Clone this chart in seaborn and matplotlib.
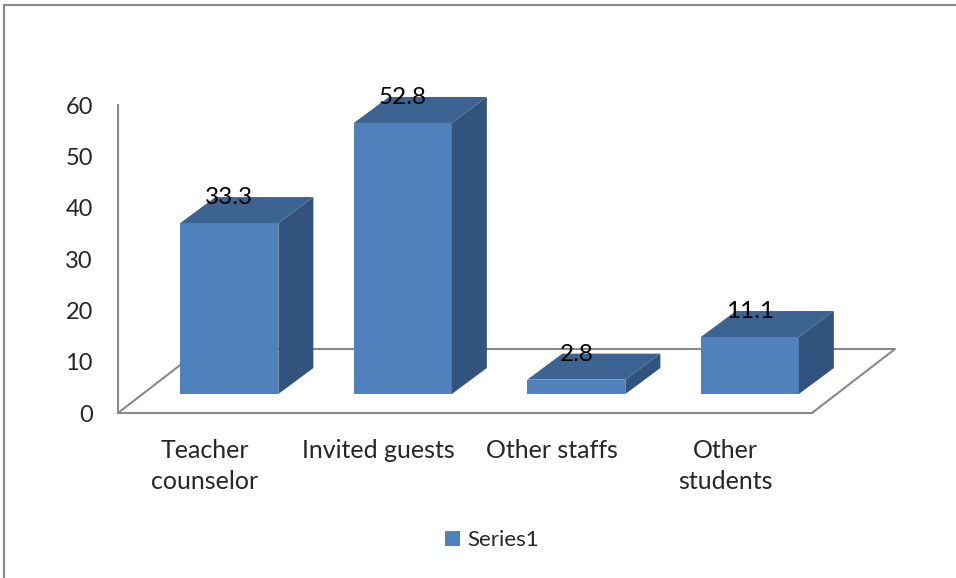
import matplotlib
matplotlib.use("Agg")
import matplotlib.pyplot as plt
import pandas as pd
import seaborn as sns
from matplotlib.lines import Line2D
from matplotlib.patches import Polygon

categories = ["Teacher\ncounselor", "Invited guests", "Other staffs", "Other\nstudents"]
values = [33.3, 52.8, 2.8, 11.1]
series_name = "Series1"
y_ticks = [0, 10, 20, 30, 40, 50, 60]

df = pd.DataFrame({"category": categories, "value": values})

sns.set_style("white")
plt.rcParams["font.family"] = ["Lato", "DejaVu Sans"]

FRONT = "#4F81BD"
TOP = "#3D6391"
SIDE = "#32537D"
GRAY = "#898989"

W, H = 956, 578
fig = plt.figure(figsize=(W / 100, H / 100), dpi=100)
ax = fig.add_axes([118 / W, 165 / H, 694 / W, 308 / H])

sns.barplot(data=df, x="category", y="value", color=FRONT, width=0.565,
            saturation=1, errorbar=None, label=series_name, ax=ax)
ax.set_xlim(-0.5, 3.5)
ax.set_ylim(0, 60)

# pixel sizes -> data units, for the fake 3d depth
px_x = 694 / 4
px_y = 308 / 60
fx, fy = 24.6 / px_x, 19 / px_y      # bars sit a bit back from the front edge
bx, by = 35 / px_x, 26 / px_y        # bar depth
DX, DY = 83 / px_x, 64 / px_y        # floor depth

# floor outline behind the bars
ax.plot([-0.5, -0.5 + DX, 3.5 + DX, 3.5], [0, DY, DY, 0],
        color=GRAY, lw=1.5, zorder=1, clip_on=False)

bars = list(ax.patches)
for bar, v in zip(bars, values):
    bar.set_x(bar.get_x() + fx)
    bar.set_y(fy)
    bar.set_edgecolor("none")
    bar.set_zorder(3)
    bar.set_clip_on(False)
    x0 = bar.get_x()
    x1 = x0 + bar.get_width()
    y0 = fy
    y1 = fy + bar.get_height()
    ax.add_patch(Polygon([(x1, y0), (x1 + bx, y0 + by), (x1 + bx, y1 + by), (x1, y1)],
                         closed=True, fc=SIDE, ec="none", zorder=3, clip_on=False))
    ax.add_patch(Polygon([(x0, y1), (x0 + bx, y1 + by), (x1 + bx, y1 + by), (x1, y1)],
                         closed=True, fc=TOP, ec="none", zorder=3, clip_on=False))
    ax.text((x0 + x1) / 2, y1 + 19 / px_y, f"{v:g}", ha="center", va="baseline",
            fontsize=17.5, color="black", zorder=5)

for side in ["top", "right"]:
    ax.spines[side].set_visible(False)
for side in ["left", "bottom"]:
    ax.spines[side].set_color(GRAY)
    ax.spines[side].set_linewidth(1.5)

ax.set_yticks(y_ticks)
ax.tick_params(axis="y", length=0, pad=18, labelsize=17)
ax.set_xticks(range(len(categories)))
ax.set_xticklabels(categories, linespacing=1.4)
ax.tick_params(axis="x", length=0, pad=19, labelsize=18)
ax.set_xlabel("")
ax.set_ylabel("")

ax.legend(loc="center", bbox_to_anchor=(492 / W, 1 - 540 / H),
          bbox_transform=fig.transFigure, frameon=False, fontsize=16,
          handlelength=0.65, handleheight=0.65, handletextpad=0.35)

# outer frame (top and left edge only visible)
fig.add_artist(Line2D([4 / W, 1], [1 - 5 / H, 1 - 5 / H], transform=fig.transFigure,
                      color=GRAY, lw=1.5))
fig.add_artist(Line2D([4 / W, 4 / W], [0, 1 - 5 / H], transform=fig.transFigure,
                      color=GRAY, lw=1.5))

fig.savefig("out.png", dpi=100)
